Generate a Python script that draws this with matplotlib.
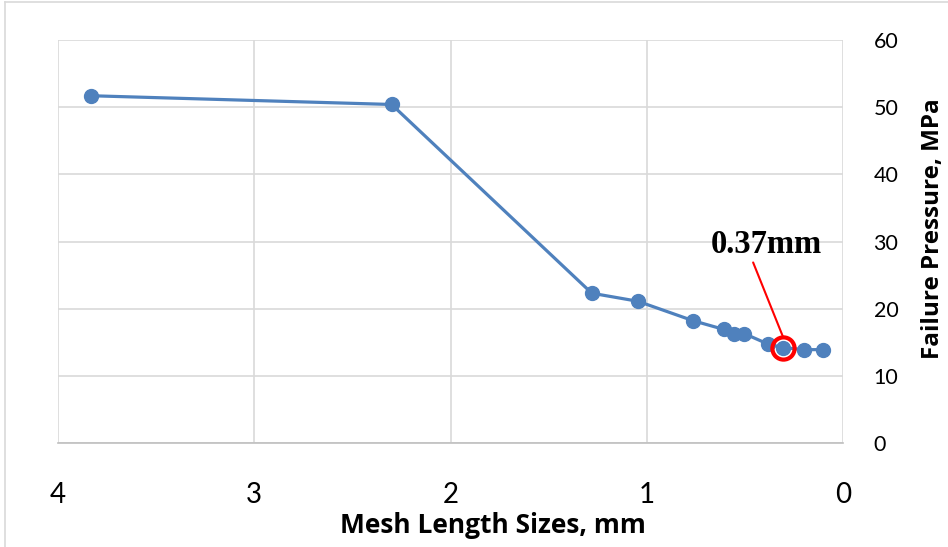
import matplotlib
matplotlib.use("Agg")
import matplotlib.pyplot as plt
from matplotlib.lines import Line2D

mesh_size = [3.83, 2.30, 1.28, 1.045, 0.763, 0.606, 0.555, 0.504, 0.38, 0.307, 0.199, 0.10]
failure_pressure = [51.7, 50.4, 22.3, 21.1, 18.2, 16.9, 16.3, 16.3, 14.7, 14.2, 13.9, 13.9]
highlight_x = 0.307
highlight_y = 14.2
annot_text = "0.37mm"
annot_pos = (0.39, 29.6)
x_ticks = [4, 3, 2, 1, 0]
y_ticks = [0, 10, 20, 30, 40, 50, 60]

fig = plt.figure(figsize=(9.48, 5.47), dpi=100)
ax = fig.add_axes([58/948, 1-443/547, (843-58)/948, (443-40)/547])

blue = "#4F81BD"
ax.plot(mesh_size, failure_pressure, color=blue, lw=2.3, marker='o', ms=10, zorder=3)
ax.plot([highlight_x], [highlight_y], marker='o', ms=16, mfc='none', mec='#FF0000', mew=3, zorder=4, ls='none')

ax.annotate(annot_text, xy=(highlight_x, highlight_y + 1.7), xytext=annot_pos,
            fontsize=23.5, fontweight='bold', family='Liberation Serif', ha='center', va='center',
            arrowprops=dict(arrowstyle='-', color='#FF0000', lw=1.5, shrinkA=0, shrinkB=0,
                            relpos=(0.37, 0.0)), zorder=5)

ax.set_xlim(4, 0)
ax.set_ylim(0, 60)
ax.set_xticks(x_ticks)
ax.set_yticks(y_ticks)
ax.grid(True, color='#D9D9D9', lw=1.2)
ax.set_axisbelow(True)
for s in ['top', 'left', 'right']:
    ax.spines[s].set_visible(False)
ax.spines['bottom'].set_color('#BFBFBF')
ax.spines['bottom'].set_linewidth(1.2)

ax.yaxis.tick_right()
ax.yaxis.set_label_position('right')
ax.tick_params(axis='both', length=0)
ax.tick_params(axis='x', pad=28, labelsize=20)
ax.tick_params(axis='y', pad=22, labelsize=15.5)
for lab in ax.get_xticklabels() + ax.get_yticklabels():
    lab.set_family('Lato')

ax.set_xlabel('Mesh Length Sizes, mm', fontsize=19, fontweight='bold', family='Open Sans')
ax.set_ylabel('Failure Pressure, MPa', fontsize=17.5, fontweight='bold', family='Open Sans',
              ha='center', va='center')
ax.xaxis.set_label_coords(0.554, -0.17)
ax.yaxis.set_label_coords(1.115, 0.533)

# outer chart border
fig.add_artist(Line2D([5/948, 1], [1-2/547, 1-2/547], color='#D9D9D9', lw=1.2, transform=fig.transFigure))
fig.add_artist(Line2D([5/948, 5/948], [0, 1-2/547], color='#D9D9D9', lw=1.2, transform=fig.transFigure))

fig.savefig('out.png', dpi=100)
